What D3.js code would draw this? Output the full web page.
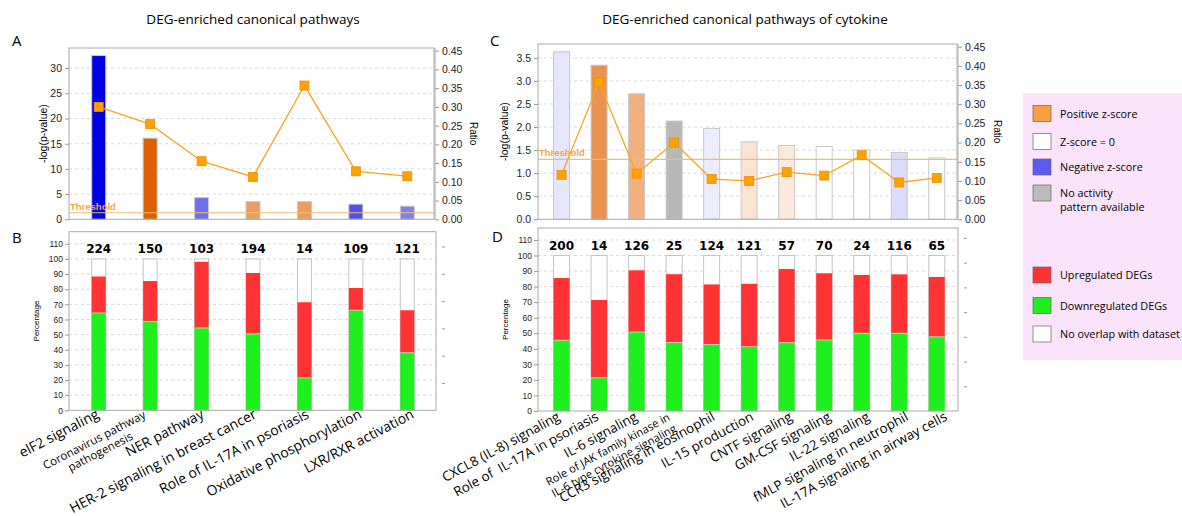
<!DOCTYPE html>
<html>
<head>
<meta charset="utf-8">
<script src="https://cdn.jsdelivr.net/npm/d3@7"></script>
<style>
  body { margin: 0; background: #fff; }
  svg { display: block; }
  .tick text { font-family: "Liberation Sans", Arial, sans-serif; fill: #222; }
  .tick line { stroke: #999; }
  .domain { stroke: none; }
</style>
</head>
<body>
<script>
//panel A / B : DEG-enriched canonical pathways
var pathwaysA = ["elF2 signaling", "Coronavirus pathway\npathogenesis", "NER pathway",
  "HER-2 signaling in breast cancer", "Role of IL-17A in psoriasis",
  "Oxidative phosphorylation", "LXR/RXR activation"];
var logpA = [32.5, 16.1, 4.3, 3.5, 3.5, 3.0, 2.6];
var ratioA = [0.300, 0.254, 0.155, 0.113, 0.357, 0.128, 0.115];
var zscoreA = [-4, 4, -2.25, 2.5, 2.5, -2.75, -2.0];
var countsA = [224, 150, 103, 194, 14, 109, 121];
var downA = [64.3, 58.7, 54.4, 50.5, 21.4, 66.1, 38.0];
var upA = [24.1, 26.7, 43.7, 40.2, 50.0, 14.7, 28.1];

//panel C / D : DEG-enriched canonical pathways of cytokine
var pathwaysC = ["CXCL8 (IL-8) signaling", "Role of  IL-17A in psoriasis", "IL-6 signaling",
  "Role of JAK family kinase in\nIL-6 type cytokine signaling", "CCR3 signaling in eosinophil",
  "IL-15 production", "CNTF signaling", "GM-CSF signaling", "IL-22 signaling",
  "fMLP signaling in neutrophil", "IL-17A signaling in airway cells"];
var logpC = [3.63, 3.34, 2.72, 2.13, 1.97, 1.68, 1.60, 1.58, 1.50, 1.45, 1.33];
var ratioC = [0.116, 0.357, 0.119, 0.200, 0.105, 0.100, 0.123, 0.114, 0.167, 0.096, 0.108];
var zscoreC = [-0.4, 2.75, 2.0, null, -0.3, 0.7, 0.55, 0, 0, -0.55, 0];
var countsC = [200, 14, 126, 25, 124, 121, 57, 70, 24, 116, 65];
var downC = [45.5, 21.4, 50.8, 44.0, 42.7, 41.3, 43.9, 45.7, 50.0, 50.0, 47.7];
var upC = [40.0, 50.0, 39.7, 44.0, 38.7, 40.5, 47.4, 42.9, 37.5, 37.9, 38.5];

var threshold = 1.3;
var ratioTicks = [0, 0.05, 0.1, 0.15, 0.2, 0.25, 0.3, 0.35, 0.4, 0.45];

var legendZ = [["Positive z-score", 2.5], ["Z-score = 0", 0], ["Negative z-score", -2.75], ["No activity\npattern available", null]];
var legendDEG = ["Upregulated DEGs", "Downregulated DEGs", "No overlap with dataset"];

var width = 1182, height = 516;
var svg = d3.select("body").append("svg").attr("width", width).attr("height", height);

var sansAxis = "'Liberation Sans', Arial, sans-serif";
var sansText = "'Open Sans', 'Noto Sans', sans-serif";

//z-score colour: white to blue for negative, white to orange for positive
var negColor = d3.interpolateRgb("#ffffff", "#0000e0");
var posColor = d3.interpolateRgb("#ffffff", "#e06000");
function zColor(z){
  if (z === null) return "#b8b8b8";
  var t = Math.min(Math.abs(z) / 4, 1);
  return z < 0 ? negColor(t) : posColor(t);
}
var upColor = "#ff3333", downColor = "#1ef01e";

//titles
svg.append("text").attr("x", 253).attr("y", 24).attr("text-anchor", "middle")
  .style("font-family", sansText).style("font-size", "13.5px").text("DEG-enriched canonical pathways");
svg.append("text").attr("x", 745).attr("y", 24).attr("text-anchor", "middle")
  .style("font-family", sansText).style("font-size", "13.5px").text("DEG-enriched canonical pathways of cytokine");

//panel letters
[["A", 12, 46], ["B", 12, 243], ["C", 490, 46], ["D", 492, 242]].forEach(function(p){
  svg.append("text").attr("x", p[1]).attr("y", p[2])
    .style("font-family", sansText).style("font-size", "15px").text(p[0]);
});

//top panel: -log(p) bars + ratio line
function drawTop(cfg){
  var g = svg.append("g");
  var x = d3.scaleBand().domain(d3.range(cfg.names.length)).range(cfg.band);
  var y = d3.scaleLinear().domain([0, cfg.leftMax]).range([cfg.y1, cfg.y0]);
  var yr = d3.scaleLinear().domain([0, 0.45]).range([cfg.y1, cfg.rightTop]);

  //grid
  g.selectAll(".grid").data(cfg.ticks.filter(function(d){ return d > 0; }))
    .enter().append("line")
    .attr("x1", cfg.x0).attr("x2", cfg.x1)
    .attr("y1", function(d){ return y(d); }).attr("y2", function(d){ return y(d); })
    .attr("stroke", "#cfcfcf").attr("stroke-dasharray", "3,3").attr("stroke-width", 0.8);

  //bars
  g.selectAll(".bar").data(cfg.logp).enter().append("rect")
    .attr("x", function(d, i){ return x(i) + x.bandwidth() / 2 - cfg.barW / 2; })
    .attr("y", function(d){ return y(d); })
    .attr("width", cfg.barW)
    .attr("height", function(d){ return cfg.y1 - y(d); })
    .attr("fill", function(d, i){ return zColor(cfg.z[i]); })
    .attr("stroke", "#c8c8c8").attr("stroke-width", 1);

  //threshold
  g.append("line").attr("x1", cfg.x0).attr("x2", cfg.x1)
    .attr("y1", y(threshold)).attr("y2", y(threshold))
    .attr("stroke", "#f2be6a").attr("stroke-width", 1.2);
  g.append("text").attr("x", cfg.x0 + 1).attr("y", y(threshold) - 3)
    .style("font-family", sansAxis).style("font-size", "9.5px").style("font-weight", "bold")
    .attr("fill", "#f5a83a").text("Threshold");

  //ratio line
  var line = d3.line()
    .x(function(d, i){ return x(i) + x.bandwidth() / 2; })
    .y(function(d){ return yr(d); });
  g.append("path").datum(cfg.ratio).attr("d", line)
    .attr("fill", "none").attr("stroke", "#f7a521").attr("stroke-width", 1.3);
  g.selectAll(".pt").data(cfg.ratio).enter().append("rect")
    .attr("x", function(d, i){ return x(i) + x.bandwidth() / 2 - 4.5; })
    .attr("y", function(d){ return yr(d) - 4.5; })
    .attr("width", 9).attr("height", 9)
    .attr("fill", "#ffa200").attr("stroke", "#ee8f00").attr("stroke-width", 0.8);

  //frame
  g.append("rect").attr("x", cfg.x0).attr("y", cfg.y0)
    .attr("width", cfg.x1 - cfg.x0).attr("height", cfg.y1 - cfg.y0)
    .attr("fill", "none").attr("stroke", "#aaa");

  //axes
  var la = g.append("g").attr("transform", "translate(" + cfg.x0 + ",0)")
    .call(d3.axisLeft(y).tickValues(cfg.ticks).tickFormat(cfg.fmt).tickSize(4).tickPadding(3));
  la.selectAll("text").style("font-size", "10.5px");
  var ra = g.append("g").attr("transform", "translate(" + (cfg.x1 + 1) + ",0)")
    .call(d3.axisRight(yr).tickValues(ratioTicks).tickFormat(d3.format(".2f")).tickSize(4).tickPadding(3));
  ra.selectAll("text").style("font-size", "10.5px");
  ra.append("line").attr("x1", 0).attr("x2", 0).attr("y1", cfg.y0).attr("y2", cfg.y1).attr("stroke", "#aaa");

  //axis titles
  svg.append("text").attr("transform", "translate(" + cfg.ylabX + "," + ((cfg.y0 + cfg.y1) / 2) + ") rotate(-90)")
    .attr("text-anchor", "middle").style("font-family", sansAxis).style("font-size", "10.5px")
    .text("-log(p-value)");
  svg.append("text").attr("transform", "translate(" + cfg.rlabX + "," + ((cfg.y0 + cfg.y1) / 2) + ") rotate(90)")
    .attr("text-anchor", "middle").style("font-family", sansAxis).style("font-size", "10px")
    .text("Ratio");
}

//bottom panel: stacked percentage bars + rotated labels
function drawBottom(cfg){
  var g = svg.append("g");
  var x = d3.scaleBand().domain(d3.range(cfg.names.length)).range(cfg.band);
  var y = d3.scaleLinear().domain([0, cfg.max]).range([cfg.y1, cfg.y0]);
  var ticks = d3.range(0, 111, 10);

  g.selectAll(".grid").data(ticks.filter(function(d){ return d > 0; }))
    .enter().append("line")
    .attr("x1", cfg.x0).attr("x2", cfg.x1)
    .attr("y1", function(d){ return y(d); }).attr("y2", function(d){ return y(d); })
    .attr("stroke", "#cfcfcf").attr("stroke-dasharray", "3,3").attr("stroke-width", 0.8);

  var cx = function(i){ return x(i) + x.bandwidth() / 2 - cfg.barW / 2; };
  //total (no overlap) background
  g.selectAll(".tot").data(cfg.names).enter().append("rect")
    .attr("x", function(d, i){ return cx(i); }).attr("y", y(100))
    .attr("width", cfg.barW).attr("height", cfg.y1 - y(100))
    .attr("fill", "#fff").attr("stroke", "#c4c4c4");
  g.selectAll(".up").data(cfg.up).enter().append("rect")
    .attr("x", function(d, i){ return cx(i); })
    .attr("y", function(d, i){ return y(d + cfg.down[i]); })
    .attr("width", cfg.barW)
    .attr("height", function(d){ return cfg.y1 - y(d); })
    .attr("fill", upColor);
  g.selectAll(".down").data(cfg.down).enter().append("rect")
    .attr("x", function(d, i){ return cx(i); })
    .attr("y", function(d){ return y(d); })
    .attr("width", cfg.barW)
    .attr("height", function(d){ return cfg.y1 - y(d); })
    .attr("fill", downColor);
  //thin separators like the reference
  g.selectAll(".sep").data(cfg.down).enter().append("line")
    .attr("x1", function(d, i){ return cx(i); }).attr("x2", function(d, i){ return cx(i) + cfg.barW; })
    .attr("y1", function(d){ return y(d); }).attr("y2", function(d){ return y(d); })
    .attr("stroke", "#d0d0d0").attr("stroke-width", 0.8);

  //counts
  g.selectAll(".cnt").data(cfg.counts).enter().append("text")
    .attr("x", function(d, i){ return x(i) + x.bandwidth() / 2; })
    .attr("y", cfg.countY).attr("text-anchor", "middle")
    .style("font-family", "'DejaVu Sans', sans-serif").style("font-size", "12px").style("font-weight", "bold")
    .text(function(d){ return d; });

  //frame
  g.append("rect").attr("x", cfg.x0).attr("y", cfg.y0)
    .attr("width", cfg.x1 - cfg.x0).attr("height", cfg.y1 - cfg.y0)
    .attr("fill", "none").attr("stroke", "#aaa");

  var la = g.append("g").attr("transform", "translate(" + cfg.x0 + ",0)")
    .call(d3.axisLeft(y).tickValues(ticks).tickSize(4).tickPadding(2));
  la.selectAll("text").style("font-size", "8.5px");

  //unlabelled right-hand ticks
  var yr = d3.scaleLinear().domain([0, cfg.rmax]).range([cfg.y1, cfg.y0]);
  var ra = g.append("g").attr("transform", "translate(" + (cfg.x1 + 6) + ",0)")
    .call(d3.axisRight(yr).tickValues(d3.range(1, Math.floor(cfg.rmax / 0.05 + 0.001) + 1).map(function(k){ return k * 0.05; }))
      .tickFormat("").tickSize(3));
  ra.selectAll("line").attr("stroke", "#bbb");

  svg.append("text").attr("transform", "translate(" + cfg.ylabX + "," + ((cfg.y0 + cfg.y1) / 2) + ") rotate(-90)")
    .attr("text-anchor", "middle").style("font-family", sansAxis).style("font-size", "8px")
    .text("Percentage");

  //category labels: the label anchors drift a little from the bar centres in the source
  var xl = d3.scalePoint().domain(d3.range(cfg.names.length)).range(cfg.labelRange);
  cfg.names.forEach(function(name, i){
    var lines = name.split("\n");
    var multi = lines.length > 1;
    var fs = multi ? cfg.smallFs : cfg.fs;
    var lg = svg.append("g")
      .attr("transform", "translate(" + (xl(i) + (multi ? -6 : 0)) + "," + (cfg.y1 + cfg.ldy) + ") rotate(" + cfg.angle + ")");
    var texts = lines.map(function(l, k){
      return lg.append("text").attr("y", k * fs * 1.15)
        .style("font-family", sansText).style("font-size", fs + "px")
        .style("white-space", "pre").text(l);
    });
    if (multi){
      var w = d3.max(texts, function(t){ return t.node().getComputedTextLength(); });
      texts.forEach(function(t){ t.attr("text-anchor", "middle").attr("x", -w / 2); });
    } else {
      texts[0].attr("text-anchor", "end");
    }
  });
}

drawTop({ names: pathwaysA, logp: logpA, ratio: ratioA, z: zscoreA,
  x0: 69, x1: 434, y0: 48, y1: 219.3, leftMax: 34, rightTop: 50.7,
  ticks: [0, 5, 10, 15, 20, 25, 30], fmt: d3.format("d"),
  band: [73, 433], barW: 14, ylabX: 47, rlabX: 470 });

drawTop({ names: pathwaysC, logp: logpC, ratio: ratioC, z: zscoreC,
  x0: 538, x1: 957, y0: 44, y1: 219.3, leftMax: 3.8, rightTop: 46.7,
  ticks: [0, 0.5, 1, 1.5, 2, 2.5, 3, 3.5], fmt: d3.format(".1f"),
  band: [542.8, 955.5], barW: 16, ylabX: 508, rlabX: 994 });

drawBottom({ names: pathwaysA, counts: countsA, down: downA, up: upA,
  x0: 69, x1: 436, y0: 231.7, y1: 410.3, max: 118, rmax: 0.327,
  band: [73, 433], barW: 14, countY: 253, ylabX: 39,
  labelRange: [100, 415], fs: 14, smallFs: 11.5, angle: -27.5, ldy: 7 });

drawBottom({ names: pathwaysC, counts: countsC, down: downC, up: upC,
  x0: 538, x1: 958, y0: 228, y1: 411, max: 117.7, rmax: 0.37,
  band: [542.8, 955.5], barW: 16, countY: 250, ylabX: 508,
  labelRange: [561, 948], fs: 13.4, smallFs: 11.2, angle: -28.5, ldy: 8.5 });

//legend
var leg = svg.append("g");
leg.append("rect").attr("x", 1023).attr("y", 93).attr("width", 170).attr("height", 267).attr("fill", "#fbe4fb");
var zRows = [113.5, 141.5, 167, 193];
legendZ.forEach(function(item, i){
  leg.append("rect").attr("x", 1033).attr("y", zRows[i] - 8).attr("width", 18).attr("height", 16)
    .attr("fill", item[1] === 0 ? "#fff" : (item[1] === null ? "#bbbbbb" : (item[1] > 0 ? "#f7a040" : "#5c5cf2")))
    .attr("stroke", "#666").attr("stroke-width", 0.7);
  item[0].split("\n").forEach(function(l, k){
    leg.append("text").attr("x", 1060).attr("y", zRows[i] + 4 + k * 13.5)
      .style("font-family", sansText).style("font-size", "10.8px").text(l);
  });
});
var dRows = [275, 305.5, 334];
var dFill = [upColor, downColor, "#fff"];
legendDEG.forEach(function(l, i){
  leg.append("rect").attr("x", 1033).attr("y", dRows[i] - 8).attr("width", 18).attr("height", 16)
    .attr("fill", dFill[i]).attr("stroke", "#666").attr("stroke-width", 0.7);
  leg.append("text").attr("x", 1060).attr("y", dRows[i] + 4)
    .style("font-family", sansText).style("font-size", "10.8px").text(l);
});
</script>
</body>
</html>
